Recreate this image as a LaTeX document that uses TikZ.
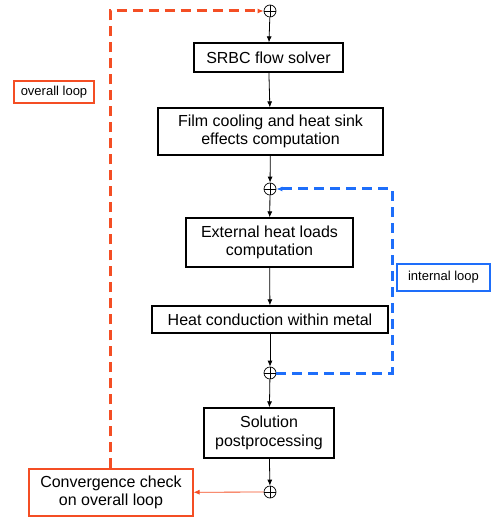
\documentclass[tikz,border=0pt]{standalone}
\usepackage{fontspec}
\setmainfont{Liberation Sans}
\usepackage{tikz}
\usetikzlibrary{arrows.meta, positioning, calc}
\definecolor{loopred}{RGB}{244,78,36}
\definecolor{loopblue}{RGB}{30,110,250}

\begin{document}
\begin{tikzpicture}[x=1pt, y=-1pt, every node/.style={font=\fontsize{16}{18.5}\selectfont}, >={Latex[length=6pt,width=5pt]}]
	\tikzstyle{stepbox}=[rectangle, draw=black, line width=1.3pt, align=center, inner sep=0pt]
	\tikzstyle{loopbox}=[rectangle, line width=1.2pt, align=center, inner sep=0pt]
	\tikzstyle{sumc}=[circle, draw=black, line width=0.7pt, minimum size=12pt, inner sep=0pt,
		path picture={\draw[line width=0.7pt] (path picture bounding box.north) -- (path picture bounding box.south)
			(path picture bounding box.west) -- (path picture bounding box.east);}]
	\tikzstyle{flow}=[->, line width=0.8pt]
	\tikzstyle{loopline}=[->, line width=3pt, dash pattern=on 10pt off 6pt]
	\useasboundingbox (0,0) rectangle (498,521);

	\node (s1) at (270,11) [sumc]{};
	\node (solver) at (268.5,57.5) [stepbox, minimum width=149pt, minimum height=29pt]{SRBC flow solver};
	\node (film) at (270.5,131.5) [stepbox, minimum width=225pt, minimum height=47pt]{Film cooling and heat sink\\effects computation};
	\node (s2) at (270,189) [sumc]{};
	\node (heat) at (269.5,242.5) [stepbox, minimum width=167pt, minimum height=49pt]{External heat loads\\computation};
	\node (cond) at (270,319.5) [stepbox, minimum width=236pt, minimum height=27pt]{Heat conduction within metal};
	\node (s3) at (270,373) [sumc]{};
	\node (post) at (269,433) [stepbox, minimum width=130pt, minimum height=50pt]{Solution\\postprocessing};
	\node (s4) at (270,492) [sumc]{};
	\node (conv) at (111,492.5) [loopbox, draw=loopred, minimum width=164pt, minimum height=47pt]{Convergence check\\on overall loop};
	\node (overall) at (54,92) [loopbox, draw=loopred, minimum width=80pt, minimum height=22pt, font=\fontsize{13}{15}\selectfont]{overall loop};
	\node (internal) at (443.5,277.5) [loopbox, draw=loopblue, minimum width=93pt, minimum height=27pt, font=\fontsize{13}{15}\selectfont]{internal loop};
	\coordinate (ctop) at (110,11);
	\coordinate (iright) at (392,373);
	\coordinate (itop) at (392,189);

	\draw[flow] (s1) -- (solver);
	\draw[flow] (solver) -- (film);
	\draw[flow] (film) -- (s2);
	\draw[flow] (s2) -- (heat);
	\draw[flow] (heat) -- (cond);
	\draw[flow] (cond) -- (s3);
	\draw[flow] (s3) -- (post);
	\draw[flow] (post) -- (s4);
	\draw[flow, draw=loopred] (s4) -- (conv);

	\draw[loopline, draw=loopred] (conv.north -| ctop) -- (ctop) -- (s1);
	\draw[loopline, draw=loopblue] (s3) -- (iright) -- (itop) -- (s2);
\end{tikzpicture}
\end{document}
